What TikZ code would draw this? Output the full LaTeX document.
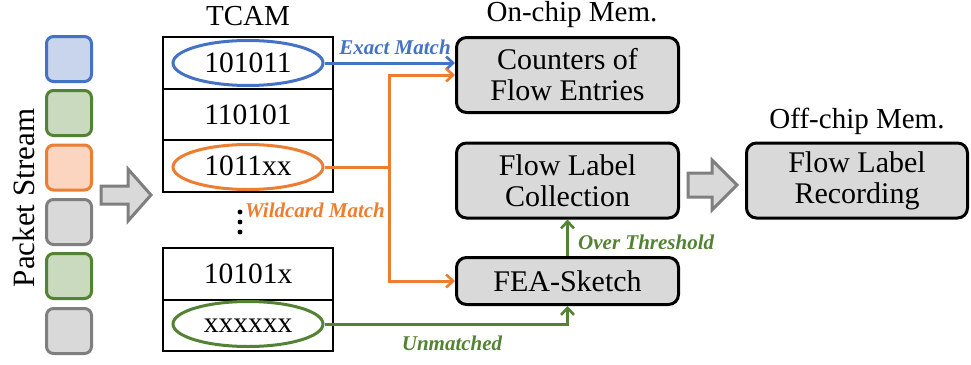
\documentclass[tikz,border=0pt]{standalone}
\usepackage{fontspec}
\setmainfont{Liberation Serif}
\usetikzlibrary{arrows.meta,calc,shapes.geometric}
\definecolor{cblue}{HTML}{4472C4}
\definecolor{cblueF}{HTML}{C8D5ED}
\definecolor{corange}{HTML}{ED7D31}
\definecolor{corangeF}{HTML}{FBD5BF}
\definecolor{cgreen}{HTML}{548235}
\definecolor{cgreenF}{HTML}{C9DABF}
\definecolor{cgray}{HTML}{7F7F7F}
\definecolor{cgrayF}{HTML}{D9D9D9}
\tikzset{
  pkt/.style={draw=#1, line width=3pt, rounded corners=7pt, minimum width=45pt, minimum height=45pt, inner sep=0pt},
  membox/.style={draw=black, fill=cgrayF, line width=3pt, rounded corners=10pt, inner sep=0pt, align=center, font=\fontsize{30}{31}\selectfont},
  cell/.style={draw=black, line width=2.2pt, minimum width=170pt, minimum height=51.5pt, inner sep=0pt, font=\fontsize{29.5}{31}\selectfont},
  ell/.style={draw=#1, line width=3pt, ellipse, minimum width=150pt, minimum height=45pt, inner sep=0pt},
  title/.style={font=\fontsize{29}{31}\selectfont},
  lab/.style={font=\fontsize{21}{24}\selectfont\bfseries\itshape, text=#1, inner sep=0pt},
  conn/.style={draw=#1, line width=3pt, -{Straight Barb[length=7pt,width=13pt,line width=2.6pt]}},
  plain/.style={draw=#1, line width=3pt},
  blockarrow/.style={draw=cgray, fill=cgrayF, line width=3pt, line join=miter}
}
\begin{document}
\begin{tikzpicture}[x=1pt,y=-1pt]
\useasboundingbox (0,0) rectangle (971,364);
% packet stream
\node[pkt=cblue, fill=cblueF] (p1) at (69,59) {};
\node[pkt=cgreen, fill=cgreenF] (p2) at (69,113) {};
\node[pkt=corange, fill=corangeF] (p3) at (69,167.5) {};
\node[pkt=cgray, fill=cgrayF] (p4) at (69,222) {};
\node[pkt=cgreen, fill=cgreenF] (p5) at (69,276) {};
\node[pkt=cgray, fill=cgrayF] (p6) at (69,331) {};
\node[font=\fontsize{31}{33}\selectfont, rotate=90] (ps) at (24,198) {Packet Stream};
% block arrow 1
\draw[blockarrow] (101,186) -- (128,186) -- (128,169) -- (151,195) -- (128,221) -- (128,204) -- (101,204) -- cycle;
% TCAM
\node[title] (tcam) at (248,16) {TCAM};
\node[cell] (r1) at (248,63) {101011};
\node[cell] (r2) at (248,114.5) {110101};
\node[cell] (r3) at (248,166) {1011xx};
\node[cell] (r4) at (248,274) {10101x};
\node[cell] (r5) at (248,325.5) {xxxxxx};
\node[ell=cblue] (e1) at (248,63) {};
\node[ell=corange] (e2) at (248,167) {};
\node[ell=cgreen] (e3) at (248,324) {};
\fill (240,212) circle (2.4pt) (240,222) circle (2.4pt) (240,232) circle (2.4pt);
% memory boxes
\node[title] (onchip) at (572,15) {On-chip Mem.};
\node[title] (offchip) at (857,121) {Off-chip Mem.};
\node[membox, minimum width=222pt, minimum height=75pt] (cnt) at (567.5,75) {Counters of\\Flow Entries};
\node[membox, minimum width=222pt, minimum height=75pt] (flc) at (567.5,180.5) {Flow Label\\Collection};
\node[membox, minimum width=222pt, minimum height=47pt] (fea) at (567.5,281) {FEA-Sketch};
\node[membox, minimum width=221pt, minimum height=75pt] (flr) at (857,180.5) {Flow Label\\Recording};
% block arrow 2
\draw[blockarrow] (688,173) -- (712,173) -- (712,160) -- (737,185) -- (712,210) -- (712,197) -- (688,197) -- cycle;
% connectors
\coordinate (j) at (389,167);
\draw[conn=cblue] (e1.east) -- (e1.east -| cnt.west);
\draw[plain=corange] (e2.east) -- (j);
\draw[conn=corange] (j) |- (cnt.west);
\draw[conn=corange] (j) |- (fea.west);
\draw[conn=cgreen] (e3.east) -| (fea.south);
\draw[conn=cgreen] (fea.north) -- (flc.south);
% labels
\node[lab=cblue] (lexact) at (395,47) {Exact Match};
\node[lab=corange] (lwild) at (315,210) {Wildcard Match};
\node[lab=cgreen, anchor=west] (lover) at (578,242) {Over Threshold};
\node[lab=cgreen] (lunm) at (452,343) {Unmatched};
\end{tikzpicture}
\end{document}
